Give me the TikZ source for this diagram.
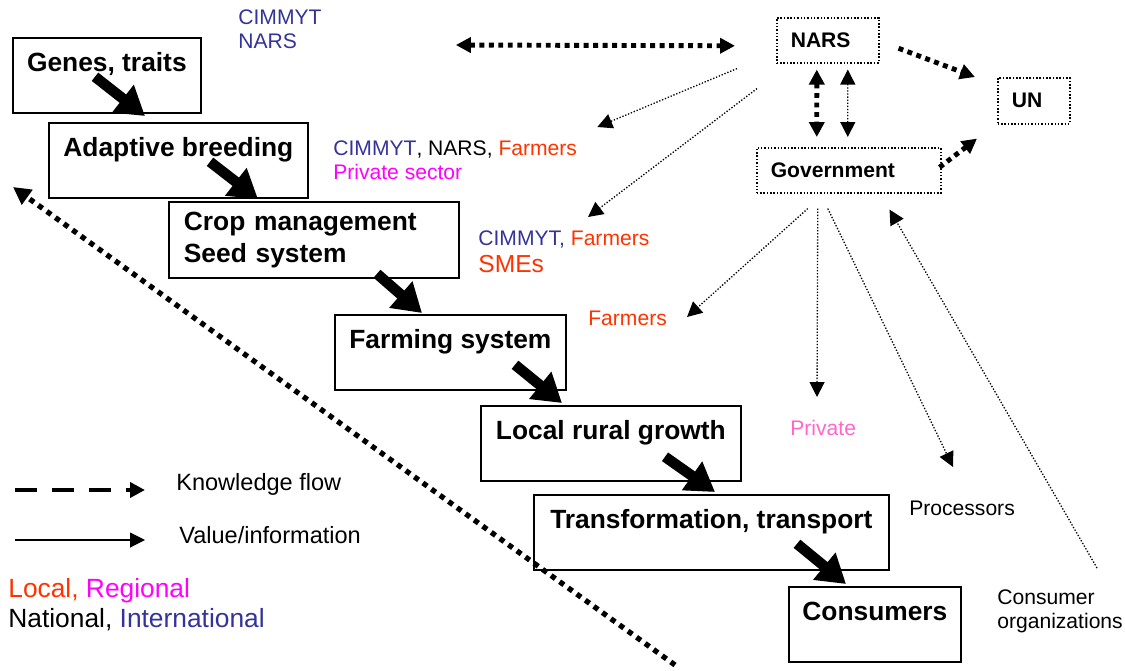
\documentclass[tikz,border=0pt]{standalone}
\usepackage{fontspec}
\setmainfont{Liberation Sans}
\usetikzlibrary{arrows.meta}

\definecolor{intlblue}{RGB}{51,51,153}
\definecolor{localred}{RGB}{255,51,0}
\definecolor{regmagenta}{RGB}{255,0,255}
\definecolor{privpink}{RGB}{255,102,204}

\tikzset{>={Triangle[length=8.5pt,width=8.5pt]},
  stagebox/.style={draw, line width=1pt, anchor=north west, inner xsep=0pt,
    inner ysep=3pt, font=\fontsize{15}{18}\selectfont\bfseries},
  onerow/.style={text height=16.2pt, text depth=20.5pt},
  orgbox/.style={draw, densely dotted, line width=0.9pt, anchor=north west,
    align=left, inner xsep=2.8mm, inner ysep=0pt, minimum height=9mm,
    font=\fontsize{12}{14}\selectfont\bfseries},
  actor/.style={anchor=west, inner sep=0pt, align=left,
    font=\fontsize{12}{13.6}\selectfont},
  bigarrow/.style={line width=6pt, -{Triangle[length=16pt,width=19pt]}},
  knowflow/.style={line width=2.8pt, dash pattern=on 2.8pt off 2.6pt},
  infoflow/.style={line width=0.75pt, densely dotted}
}

\begin{document}
\begin{tikzpicture}[x=0.02cm, y=-0.02cm, line cap=butt]

    \useasboundingbox (0,0) rectangle (1125,670);

    % value chain, top left to bottom right
    \node[stagebox, onerow, minimum width=37.6mm] (genes) at (12,37) {Genes, traits};
    \node[stagebox, onerow, minimum width=51.8mm] (adapt) at (48,122) {Adaptive breeding};
    \node[stagebox, align=left, text width=52mm, inner xsep=3mm,
          minimum height=15.2mm] (crop) at (168,201) {Crop management\\Seed system};
    \node[stagebox, onerow, minimum width=46.2mm] (farm) at (334,314) {Farming system};
    \node[stagebox, onerow, minimum width=52mm] (rural) at (480,405) {Local rural growth};
    \node[stagebox, onerow, minimum width=71mm] (transf) at (533,494) {Transformation, transport};
    \node[stagebox, onerow, minimum width=34.4mm] (consum) at (788,586) {Consumers};

    \draw[bigarrow] ([shift={(83,-37)}]genes.south west) -- ([shift={(97,-6)}]adapt.north west);
    \draw[bigarrow] ([shift={(162,-37)}]adapt.south west) -- ([shift={(90,-2)}]crop.north west);
    \draw[bigarrow] ([shift={(209,-5)}]crop.south west) -- ([shift={(88,-1)}]farm.north west);
    \draw[bigarrow] ([shift={(181,-26)}]farm.south west) -- ([shift={(82,-2)}]rural.north west);
    \draw[bigarrow] ([shift={(185,-25)}]rural.south west) -- ([shift={(182,-2)}]transf.north west);
    \draw[bigarrow] ([shift={(264,-27)}]transf.south west) -- ([shift={(58,-2)}]consum.north west);

    % institutions
    \node[orgbox, text width=14.8mm] (nars) at (776,17) {NARS};
    \node[orgbox, text width=8.8mm, minimum height=9.2mm] (un) at (997,77) {UN};
    \node[orgbox, text width=31.2mm] (gov) at (756,147) {Government};

    % actors along the chain
    \node[actor, text=intlblue] (toplabel) at (238,29) {CIMMYT\\NARS};
    \node[actor] (breedlabel) at (333,160)
        {\textcolor{intlblue}{CIMMYT}, NARS, \textcolor{localred}{Farmers}\\
         \textcolor{regmagenta}{Private sector}};
    \node[actor] (seedlabel) at (478,252)
        {\textcolor{intlblue}{CIMMYT,} \textcolor{localred}{Farmers}\\[2pt]
         {\fontsize{14}{15}\selectfont\textcolor{localred}{SMEs}}};
    \node[actor, text=localred] (farmlabel) at (588,318) {Farmers};
    \node[actor, text=privpink] (privlabel) at (790,428) {Private};
    \node[actor] (proclabel) at (909,508) {Processors};
    \node[actor] (consorg) at (997,611) {Consumer\\organizations};

    % knowledge flows
    \draw[knowflow, <->] ([shift={(134,16)}]toplabel.east) -- ([shift={(-41,5.5)}]nars.west);
    \draw[knowflow, ->] ([shift={(19,8)}]nars.east) -- ([shift={(-22,0)}]un.north west);
    \draw[knowflow, ->] ([shift={(-2,-3)}]gov.east) -- ([shift={(-20,14)}]un.south west);
    \draw[knowflow, <->] ([shift={(-11,6)}]nars.south) -- ([shift={(-32,-10)}]gov.north);

    \coordinate (diagtop) at (13,187);
    \coordinate (diagfoot) at (675,665);
    \draw[knowflow, line width=3pt, dash pattern=on 3pt off 3pt,
          -{Triangle[length=10pt,width=10pt]}] (diagfoot) -- (diagtop);

    % value and information flows
    \draw[infoflow, <->] ([shift={(20,6)}]nars.south) -- ([shift={(-1,-10)}]gov.north);
    \draw[infoflow, ->] ([shift={(-39,5)}]nars.south west) -- ([shift={(20,-33)}]breedlabel.east);
    \draw[infoflow, ->] ([shift={(-19,25)}]nars.south west) -- ([shift={(110,-35)}]seedlabel.west);
    \draw[infoflow, ->] ([shift={(-41,15)}]gov.south) -- ([shift={(99,-1)}]farmlabel.west);
    \draw[infoflow, ->] ([shift={(-31,15)}]gov.south) -- ([shift={(27,-31)}]privlabel.west);
    \draw[infoflow, ->] ([shift={(-21,15)}]gov.south) -- ([shift={(44,-41)}]proclabel.west);
    \draw[infoflow, ->] ([shift={(100,-43)}]consorg.west) -- ([shift={(-52,16)}]gov.south east);

    % legend
    \node[actor, font=\fontsize{13.4}{15}\selectfont] (legknow) at (176,484) {Knowledge flow};
    \node[actor, font=\fontsize{13.4}{15}\selectfont] (legvalue) at (179,535) {Value/information};
    \draw[line width=2.8pt, dash pattern=on 12.5pt off 8.5pt, ->]
        ([shift={(-161,6)}]legknow.west) -- ([shift={(-31,6)}]legknow.west);
    \draw[line width=0.6pt, ->]
        ([shift={(-164,5)}]legvalue.west) -- ([shift={(-34,5)}]legvalue.west);

    \node[actor, font=\fontsize{15}{17}\selectfont] (scales) at (8,605)
        {\textcolor{localred}{Local,} \textcolor{regmagenta}{Regional}\\
         National, \textcolor{intlblue}{International}};

\end{tikzpicture}
\end{document}
